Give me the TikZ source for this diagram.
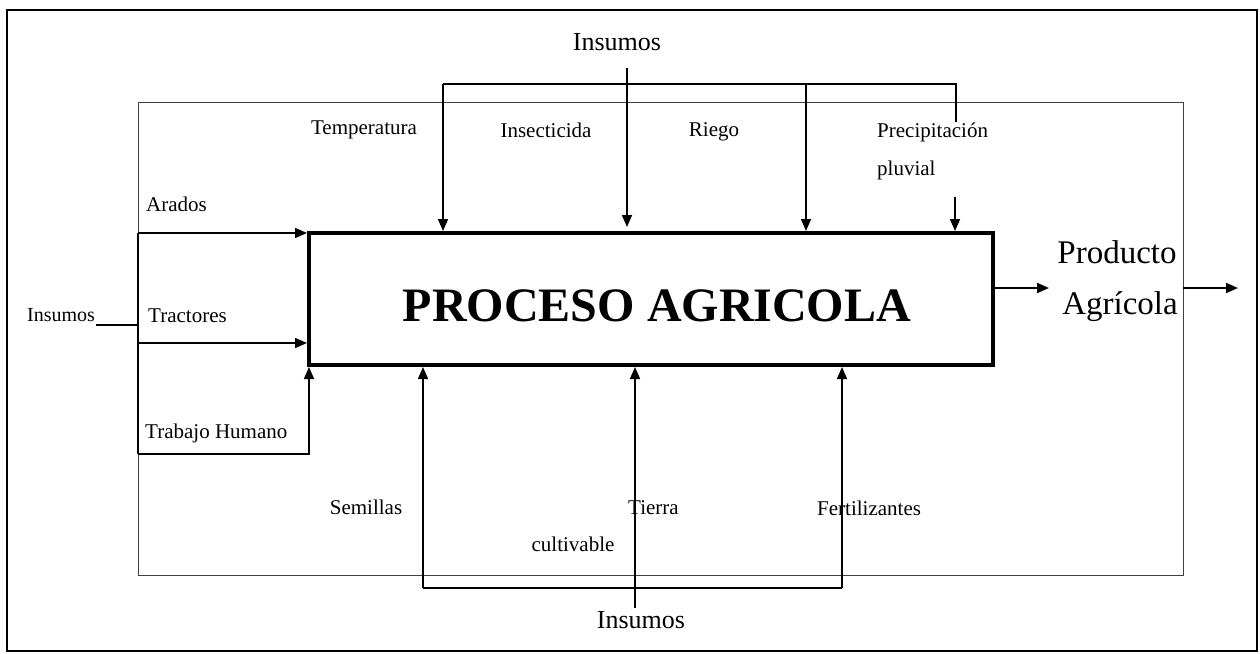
\documentclass[tikz,border=0pt]{standalone}
\usepackage{fontspec}
\setmainfont{Liberation Serif}
\usetikzlibrary{arrows.meta}
\begin{document}
\begin{tikzpicture}[x=1pt,y=-1pt,
  lbl/.style={inner sep=0pt,font=\fontsize{21}{24}\selectfont},
  ins/.style={inner sep=0pt,font=\fontsize{26}{30}\selectfont},
  big/.style={inner sep=0pt,font=\fontsize{33}{38}\selectfont},
  arr/.style={line width=1.5pt,-{Triangle[length=12pt,width=10pt]}},
  bar/.style={line width=2.5pt},
]
\useasboundingbox (0,0) rectangle (1260,653);
% frames
\draw[line width=2pt] (7,10) rectangle (1257,651);
\draw[line width=0.8pt,black!75] (138,102) rectangle (1183,575);
% main process box
\node[draw,line width=4pt,minimum width=684pt,minimum height=132pt,inner sep=0pt] (proc) at (651,299) {};
\node[inner sep=0pt,font=\fontsize{48}{56}\selectfont\bfseries] (proct) at (657,306) {PROCESO AGRICOLA};
% labels
\node[ins] (inst) at (617,42) {Insumos};
\node[ins] (insb) at (641,620) {Insumos};
\node[inner sep=0pt,font=\fontsize{20}{24}\selectfont,anchor=west] (insl) at (27,315) {Insumos};
\node[lbl] (temp) at (364,130) {Temperatura};
\node[lbl] (inse) at (546,130) {Insecticida};
\node[lbl] (riego) at (714,132) {Riego};
\node[lbl,anchor=west] (prec) at (877,132) {Precipitación};
\node[lbl,anchor=west] (pluv) at (877,170) {pluvial};
\node[lbl,anchor=west] (arad) at (146,204) {Arados};
\node[lbl,anchor=west] (tract) at (148,316) {Tractores};
\node[lbl,anchor=west] (trab) at (145,433) {Trabajo Humano};
\node[lbl] (sem) at (366,507) {Semillas};
\node[lbl,anchor=west] (tier) at (628,508) {Tierra};
\node[lbl] (cult) at (573,544) {cultivable};
\node[lbl,anchor=west] (fert) at (817,508) {Fertilizantes};
\node[big] (prod) at (1117,252) {Producto};
\node[big] (agri) at (1120,307) {Agrícola};
% top inputs
\coordinate (t1) at (443,84);
\coordinate (t2) at (956,84);
\coordinate (t3) at (956,122);
\coordinate (t4) at (806,84);
\coordinate (i1) at (627,68);
\coordinate (i2) at (627,227);
\coordinate (p1) at (955,197);
\draw[bar] (t1) -- (t2) -- (t3);
\draw[arr] (t1) -- (t1 |- proc.north);
\draw[arr] (t4) -- (t4 |- proc.north);
\draw[arr] (i1) -- (i2);
\draw[arr] (p1) -- (p1 |- proc.north);
% left inputs
\coordinate (l0) at (96,325);
\coordinate (l1) at (138,233);
\coordinate (l2) at (138,325);
\coordinate (l3) at (138,343);
\coordinate (l4) at (138,454);
\coordinate (l5) at (309,454);
\draw[line width=1.5pt] (l0) -- (l2);
\draw[bar] (l1) -- (l4);
\draw[arr] (l1) -- (l1 -| proc.west);
\draw[arr] (l3) -- (l3 -| proc.west);
\draw[arr] (l4) -- (l5) -- (l5 |- proc.south);
% bottom inputs
\coordinate (b1) at (423,588);
\coordinate (b2) at (842,588);
\coordinate (b3) at (635,608);
\draw[bar] (b1) -- (b2);
\draw[arr] (b1) -- (b1 |- proc.south);
\draw[arr] (b2) -- (b2 |- proc.south);
\draw[arr] (b3) -- (b3 |- proc.south);
% outputs
\coordinate (o1) at (1049,288);
\coordinate (o2) at (1183,288);
\coordinate (o3) at (1238,288);
\draw[arr,line width=2pt] (proc.east |- o1) -- (o1);
\draw[arr,line width=2pt] (o2) -- (o3);
\end{tikzpicture}
\end{document}
